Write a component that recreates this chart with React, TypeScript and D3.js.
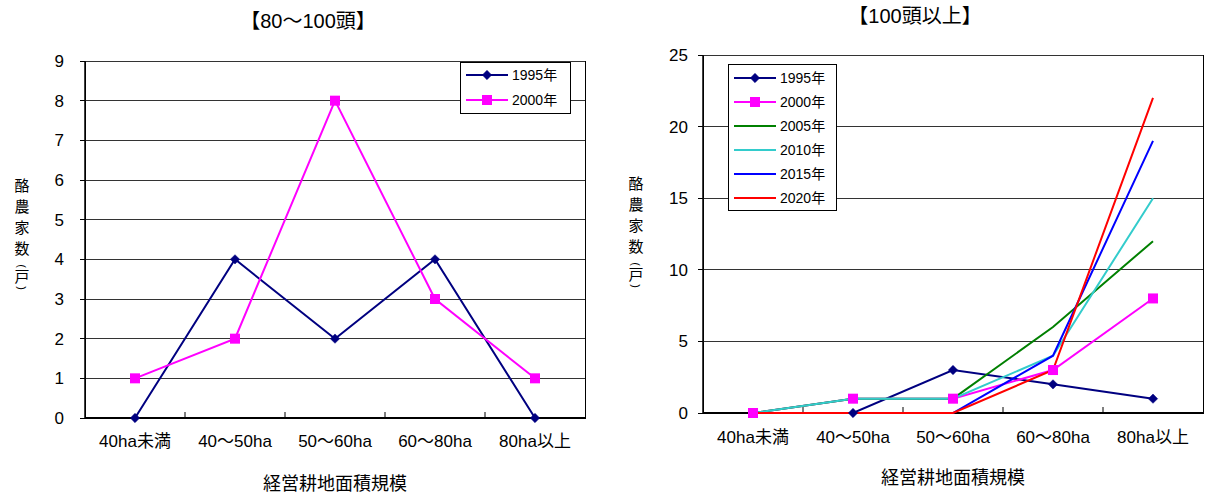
import React from 'react';
import * as d3 from 'd3';

const categories = ['40ha未満', '40～50ha', '50～60ha', '60～80ha', '80ha以上'];

const leftTitle = '【80～100頭】';
const leftTicks = [0, 1, 2, 3, 4, 5, 6, 7, 8, 9];
const left1995 = [0, 4, 2, 4, 0];
const left2000 = [1, 2, 8, 3, 1];

const rightTitle = '【100頭以上】';
const rightTicks = [0, 5, 10, 15, 20, 25];
const right1995 = [0, 0, 3, 2, 1];
const right2000 = [0, 1, 1, 3, 8];
const right2005 = [0, 1, 1, 6, 12];
const right2010 = [0, 1, 1, 4, 15];
const right2015 = [0, 0, 0, 4, 19];
const right2020 = [0, 0, 0, 3, 22];

const yTitleChars = ['酪', '農', '家', '数'];
const yTitleUnit = '戸';
const xTitle = '経営耕地面積規模';

type Series = { name: string; values: number[]; color: string; marker: 'diamond' | 'square' | null };

const leftSeries: Series[] = [
  { name: '1995年', values: left1995, color: '#000080', marker: 'diamond' },
  { name: '2000年', values: left2000, color: '#FF00FF', marker: 'square' },
];

const rightSeries: Series[] = [
  { name: '1995年', values: right1995, color: '#000080', marker: 'diamond' },
  { name: '2000年', values: right2000, color: '#FF00FF', marker: 'square' },
  { name: '2005年', values: right2005, color: '#008000', marker: null },
  { name: '2010年', values: right2010, color: '#33CCCC', marker: null },
  { name: '2015年', values: right2015, color: '#0000FF', marker: null },
  { name: '2020年', values: right2020, color: '#FF0000', marker: null },
];

const FONT = "'Liberation Sans', 'Noto Sans CJK JP', sans-serif";

function Marker({ type, x, y, color }: { type: 'diamond' | 'square' | null; x: number; y: number; color: string }) {
  if (type === 'diamond') {
    const s = d3.symbol().type(d3.symbolDiamond2).size(56)();
    return <path d={s || ''} transform={`translate(${x},${y})`} fill={color} stroke={color} strokeWidth={0.5} />;
  }
  if (type === 'square') {
    return <rect x={x - 5} y={y - 5} width={10} height={10} fill={color} />;
  }
  return null;
}

type ChartProps = {
  title: string;
  titleX: number;
  titleY: number;
  series: Series[];
  ticks: number[];
  yMax: number;
  plot: { x0: number; x1: number; y0: number; y1: number };
  tickLabelX: number;
  catLabelY: number;
  xTitleY: number;
  yTitleX: number;
  yTitleStart: number;
  legend: { x: number; y: number; w: number; h: number; rowH: number; first: number };
};

function Chart(p: ChartProps) {
  const x = d3.scaleBand<string>().domain(categories).range([p.plot.x0, p.plot.x1]);
  const y = d3.scaleLinear().domain([0, p.yMax]).range([p.plot.y1, p.plot.y0]);
  const cx = (c: string) => (x(c) as number) + x.bandwidth() / 2;
  const line = d3
    .line<number>()
    .x((_, i) => cx(categories[i]))
    .y((v) => y(v));
  const xCenter = (p.plot.x0 + p.plot.x1) / 2;
  const ys = p.yTitleStart;
  const parenOpenY = ys + 75;
  const unitY = ys + 91;
  const parenCloseY = ys + 97;

  return (
    <g fontFamily={FONT}>
      <text x={p.titleX} y={p.titleY} textAnchor="middle" fontSize={20} fill="#000">
        {p.title}
      </text>
      <rect x={p.plot.x0} y={p.plot.y0} width={p.plot.x1 - p.plot.x0} height={p.plot.y1 - p.plot.y0} fill="#fff" stroke="#000" strokeWidth={1} shapeRendering="crispEdges" />
      {p.ticks.map((t) => (
        <line key={'g' + t} x1={p.plot.x0} x2={p.plot.x1} y1={y(t)} y2={y(t)} stroke="#333" strokeWidth={1} shapeRendering="crispEdges" />
      ))}
      {p.ticks.map((t) => (
        <g key={'t' + t}>
          <line x1={p.plot.x0 - 5} x2={p.plot.x0} y1={y(t)} y2={y(t)} stroke="#000" shapeRendering="crispEdges" />
          <text x={p.tickLabelX} y={y(t) + 6} textAnchor="end" fontSize={17} fill="#000">
            {t}
          </text>
        </g>
      ))}
      <line x1={p.plot.x0} x2={p.plot.x1} y1={p.plot.y1} y2={p.plot.y1} stroke="#000" strokeWidth={2} />
      <line x1={p.plot.x0} x2={p.plot.x0} y1={p.plot.y0} y2={p.plot.y1} stroke="#000" strokeWidth={1.5} />
      {categories.slice(1).map((c) => (
        <line key={'xt' + c} x1={x(c) as number} x2={x(c) as number} y1={p.plot.y1} y2={p.plot.y1 - 6} stroke="#000" strokeWidth={1} />
      ))}
      {categories.map((c) => (
        <text key={'xl' + c} x={cx(c)} y={p.catLabelY} textAnchor="middle" fontSize={17} fill="#000">
          {c}
        </text>
      ))}
      <text x={xCenter} y={p.xTitleY} textAnchor="middle" fontSize={18} fill="#000">
        {xTitle}
      </text>
      {yTitleChars.map((ch, i) => (
        <text key={'yt' + i} x={p.yTitleX} y={ys + i * 21} textAnchor="middle" fontSize={15} fill="#000">
          {ch}
        </text>
      ))}
      <text x={p.yTitleX} y={parenOpenY} textAnchor="middle" dominantBaseline="central" fontSize={11} fill="#000" transform={`rotate(90 ${p.yTitleX} ${parenOpenY})`}>
        (
      </text>
      <text x={p.yTitleX} y={unitY} textAnchor="middle" fontSize={15} fill="#000">
        {yTitleUnit}
      </text>
      <text x={p.yTitleX} y={parenCloseY} textAnchor="middle" dominantBaseline="central" fontSize={11} fill="#000" transform={`rotate(90 ${p.yTitleX} ${parenCloseY})`}>
        )
      </text>
      {p.series.map((s) => (
        <path key={'l' + s.name} d={line(s.values) || ''} fill="none" stroke={s.color} strokeWidth={2} />
      ))}
      {p.series.map((s) =>
        s.values.map((v, i) => <Marker key={'m' + s.name + i} type={s.marker} x={cx(categories[i])} y={y(v)} color={s.color} />)
      )}
      <rect x={p.legend.x} y={p.legend.y} width={p.legend.w} height={p.legend.h} fill="#fff" stroke="#000" strokeWidth={1} shapeRendering="crispEdges" />
      {p.series.map((s, i) => {
        const ly = p.legend.y + p.legend.first + i * p.legend.rowH;
        const lx = p.legend.x + 6;
        return (
          <g key={'lg' + s.name}>
            <line x1={lx} x2={lx + 42} y1={ly} y2={ly} stroke={s.color} strokeWidth={2} />
            <Marker type={s.marker} x={lx + 21} y={ly} color={s.color} />
            <text x={lx + 46} y={ly + 5} fontSize={14} fill="#000">
              {s.name}
            </text>
          </g>
        );
      })}
    </g>
  );
}

export default function App() {
  return (
    <div style={{ position: 'absolute', left: 0, top: 0 }}>
      <svg width={1205} height={495} style={{ display: 'block', background: '#fff' }}>
        <Chart
          title={leftTitle}
          titleX={308}
          titleY={28}
          series={leftSeries}
          ticks={leftTicks}
          yMax={9}
          plot={{ x0: 85, x1: 585, y0: 61, y1: 418 }}
          tickLabelX={64}
          catLabelY={447}
          xTitleY={490}
          yTitleX={22}
          yTitleStart={191}
          legend={{ x: 460, y: 62, w: 110, h: 51, rowH: 25, first: 13 }}
        />
        <Chart
          title={rightTitle}
          titleX={915}
          titleY={23}
          series={rightSeries}
          ticks={rightTicks}
          yMax={25}
          plot={{ x0: 703, x1: 1203, y0: 55, y1: 413 }}
          tickLabelX={688}
          catLabelY={443}
          xTitleY={484}
          yTitleX={636}
          yTitleStart={189}
          legend={{ x: 728, y: 64, w: 108, h: 146, rowH: 24, first: 14 }}
        />
      </svg>
    </div>
  );
}
